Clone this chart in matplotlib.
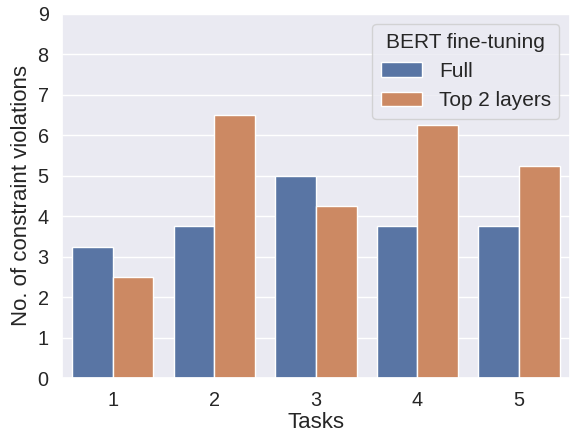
import matplotlib
matplotlib.use("Agg")
import matplotlib.pyplot as plt
import seaborn as sns
import pandas as pd

# data
tasks = ["1", "2", "3", "4", "5"]
full = [3.25, 3.75, 5.0, 3.75, 3.75]
top2 = [2.5, 6.5, 4.25, 6.25, 5.25]

df = pd.DataFrame({
    "Tasks": tasks * 2,
    "violations": full + top2,
    "BERT fine-tuning": ["Full"] * 5 + ["Top 2 layers"] * 5,
})

sns.set_theme(style="darkgrid", font_scale=1.3)
plt.rcParams['font.family'] = ['Liberation Sans', 'DejaVu Sans']

fig, ax = plt.subplots(figsize=(5.78, 4.34), dpi=100)
sns.barplot(data=df, x="Tasks", y="violations", hue="BERT fine-tuning", ax=ax)
ax.set_ylim(0, 9)
ax.set_yticks(range(10))
ax.set_ylabel("No. of constraint violations", fontsize=16)
ax.set_xlabel("Tasks", fontsize=16, labelpad=1)
leg = ax.legend(title="BERT fine-tuning", loc="upper right", fontsize=15, title_fontsize=15)

fig.subplots_adjust(left=0.107, right=0.986, top=0.968, bottom=0.129)
fig.savefig("out.png", dpi=100)
